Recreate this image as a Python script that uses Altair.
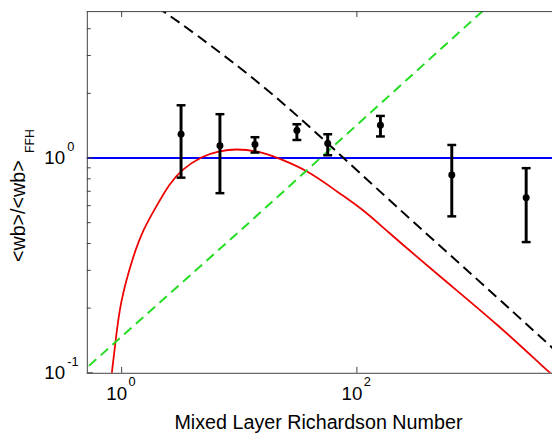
import altair as alt
import pandas as pd

# ---- data ----
pt_x = [3.20, 6.85, 13.6, 30.9, 56.5, 158.6, 641, 2750]
pt_y = [1.29, 1.14, 1.156, 1.344, 1.168, 1.42, 0.833, 0.653]
pt_hi = [1.76, 1.60, 1.25, 1.436, 1.29, 1.57, 1.15, 0.897]
pt_lo = [0.81, 0.686, 1.06, 1.213, 1.03, 1.26, 0.535, 0.406]

red_x = [0.80, 0.825, 0.881, 0.97, 1.25, 1.52, 1.96, 2.54, 3.28, 4.81, 6.64,
         9.44, 14.8, 21.7, 38.7, 68.9, 115, 169, 503, 1596, 4180, 4700]
red_y = [0.085, 0.1, 0.135, 0.213, 0.349, 0.463, 0.592, 0.758, 0.888, 1.02, 1.077,
         1.105, 1.077, 0.997, 0.872, 0.693, 0.571, 0.471, 0.282, 0.167, 0.102, 0.097]

green_x = [0.527, 10.74, 1196]
green_y = [0.1077, 0.471, 4.88]

black_x = [2.0, 2.19, 3.97, 16.8, 56.5, 197, 1051, 4450, 4700]
black_y = [5.05, 4.88, 3.89, 2.14, 1.17, 0.622, 0.273, 0.133, 0.129]

blue_x = [0.5, 4700]
blue_y = [1.0, 1.0]

x_major = [1, 100]
x_exp = ["0", "2"]
y_major = [1, 0.1]
y_exp = ["0", "-1"]
y_minor = [0.2, 0.3, 0.4, 0.5, 0.6, 0.7, 0.8, 0.9, 2, 3, 4]

X_DOMAIN = [0.506, 4560]
Y_DOMAIN = [0.1, 4.83]

W, H = 472, 367
FONT = "Liberation Sans"
FRAME = "#404040"

xs = alt.Scale(type="log", domain=X_DOMAIN, nice=False)
ys = alt.Scale(type="log", domain=Y_DOMAIN, nice=False)


def X(f="x"):
    return alt.X(f, type="quantitative", scale=xs, axis=None)


def Y(f="y"):
    return alt.Y(f, type="quantitative", scale=ys, axis=None)


def line_df(xv, yv):
    return pd.DataFrame({"x": xv, "y": yv})


blue = alt.Chart(line_df(blue_x, blue_y)).mark_line(color="#0000ff", strokeWidth=2, clip=True).encode(x=X(), y=Y())
red = alt.Chart(line_df(red_x, red_y)).mark_line(color="#ee0000", strokeWidth=1.8, clip=True,
                                                 interpolate="basis").encode(x=X(), y=Y())
green = alt.Chart(line_df(green_x, green_y)).mark_line(color="#22dd22", strokeWidth=2, clip=True,
                                                       strokeDash=[10, 6]).encode(x=X(), y=Y())
black = alt.Chart(line_df(black_x, black_y)).mark_line(color="black", strokeWidth=2, clip=True,
                                                       strokeDash=[11, 6], interpolate="basis").encode(x=X(), y=Y())

pts = pd.DataFrame({"x": pt_x, "y": pt_y, "hi": pt_hi, "lo": pt_lo})
ebar = alt.Chart(pts).mark_rule(color="black", strokeWidth=3).encode(
    x=X(), y=Y("lo"), y2=alt.Y2("hi"))
cap_hi = alt.Chart(pts).mark_tick(color="black", orient="horizontal", thickness=2.5, size=9, opacity=1).encode(
    x=X(), y=Y("hi"))
cap_lo = alt.Chart(pts).mark_tick(color="black", orient="horizontal", thickness=2.5, size=9, opacity=1).encode(
    x=X(), y=Y("lo"))
dots = alt.Chart(pts).mark_circle(color="black", size=50, opacity=1).encode(x=X(), y=Y())

# frame
frame_top = alt.Chart(line_df([0], [0])).mark_rule(color=FRAME, strokeWidth=1).encode(
    x=alt.value(0), x2=alt.value(W), y=alt.value(0.5))
frame_bottom = alt.Chart(line_df([0], [0])).mark_rule(color=FRAME, strokeWidth=1).encode(
    x=alt.value(0), x2=alt.value(W), y=alt.value(H + 0.5))
frame_left = alt.Chart(line_df([0], [0])).mark_rule(color=FRAME, strokeWidth=1).encode(
    x=alt.value(0.5), y=alt.value(0), y2=alt.value(H))

xt = pd.DataFrame({"x": x_major, "e": x_exp, "b": ["10"] * len(x_major)})
xtick_b = alt.Chart(xt).mark_rule(color=FRAME, strokeWidth=1).encode(x=X(), y=alt.value(H - 6), y2=alt.value(H))
xtick_t = alt.Chart(xt).mark_rule(color=FRAME, strokeWidth=1).encode(x=X(), y=alt.value(0), y2=alt.value(6))
xlab_b = alt.Chart(xt).mark_text(font=FONT, fontSize=19, align="right", baseline="alphabetic", dx=5.5,
                                 color="black").encode(x=X(), y=alt.value(395), text="b:N")
xlab_e = alt.Chart(xt).mark_text(font=FONT, fontSize=13, align="left", baseline="alphabetic", dx=7,
                                 color="black").encode(x=X(), y=alt.value(380.5), text="e:N")

yt = pd.DataFrame({"y": y_major, "e": y_exp, "b": ["10"] * len(y_major)})
ymaj = alt.Chart(yt).mark_rule(color=FRAME, strokeWidth=1).encode(y=Y(), x=alt.value(0), x2=alt.value(6))
ymin = alt.Chart(pd.DataFrame({"y": y_minor})).mark_rule(color=FRAME, strokeWidth=1).encode(
    y=Y(), x=alt.value(0), x2=alt.value(4))
ylab_b = alt.Chart(yt).mark_text(font=FONT, fontSize=19, align="right", baseline="alphabetic", dy=6,
                                 color="black").encode(y=Y(), x=alt.value(-22), text="b:N")
ylab_e = alt.Chart(yt).mark_text(font=FONT, fontSize=13, align="left", baseline="alphabetic", dy=-7,
                                 color="black").encode(y=Y(), x=alt.value(-20), text="e:N")

xtitle = alt.Chart(pd.DataFrame({"t": ["Mixed Layer Richardson Number"]})).mark_text(
    font=FONT, fontSize=20, align="center", baseline="alphabetic", color="black").encode(
    x=alt.value(W / 2 - 1), y=alt.value(424), text="t:N")
ytitle = alt.Chart(pd.DataFrame({"t": ["<wb>/<wb>"]})).mark_text(
    font=FONT, fontSize=20, align="center", baseline="alphabetic", angle=270, color="black").encode(
    x=alt.value(-63), y=alt.value(203), text="t:N")
ysub = alt.Chart(pd.DataFrame({"t": ["FFH"]})).mark_text(
    font=FONT, fontSize=12.5, align="left", baseline="alphabetic", angle=270, color="black").encode(
    x=alt.value(-54), y=alt.value(144), text="t:N")

chart = alt.layer(
    blue, red, green, black, ebar, cap_hi, cap_lo, dots,
    frame_top, frame_bottom, frame_left, xtick_b, xtick_t, ymaj, ymin,
    xlab_b, xlab_e, ylab_b, ylab_e, xtitle, ytitle, ysub,
).properties(
    width=W, height=H,
    padding={"left": 80, "top": 0, "right": 0, "bottom": 62},
    autosize=alt.AutoSizeParams(type="none"),
).configure_view(stroke=None)

chart.save("out.html", embed_options={"renderer": "svg", "actions": False})
